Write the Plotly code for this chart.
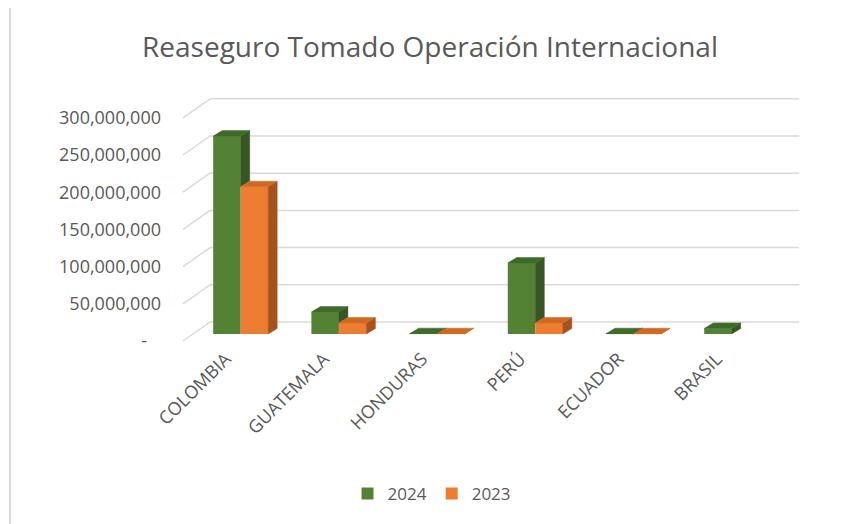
import plotly.graph_objects as go

# ---------------- data ----------------
categories = ["COLOMBIA", "GUATEMALA", "HONDURAS", "PERÚ", "ECUADOR", "BRASIL"]
values_2024 = [266_000_000, 29_500_000, 500_000, 95_500_000, 400_000, 7_500_000]
values_2023 = [198_000_000, 14_800_000, 400_000, 14_800_000, 300_000, 0]
series_names = ["2024", "2023"]
tick_values = [0, 50_000_000, 100_000_000, 150_000_000, 200_000_000, 250_000_000, 300_000_000]
tick_labels = ["-\u00a0\u00a0\u00a0", "50,000,000", "100,000,000", "150,000,000",
               "200,000,000", "250,000,000", "300,000,000"]

# ---------------- styling / geometry ----------------
W, H = 842, 524
OFF = 8                                      # page body margin
PL, PR, PT, PB = 180, 805, 85, 350           # plot area in page pixels
PX_PER_CAT = 98.2
CAT0_PX = 240.7
VAL_PER_PX = 50_000_000 / 37.2
BASE_PX = 334

x_range = [(PL - CAT0_PX) / PX_PER_CAT, (PR - CAT0_PX) / PX_PER_CAT]
y_range = [(BASE_PX - PB) * VAL_PER_PX, (BASE_PX - PT) * VAL_PER_PX]

DEPTH_DX = 9 / PX_PER_CAT
DEPTH_DY = 5.5 * VAL_PER_PX
BACK_DX = 18.4 / PX_PER_CAT
BACK_DY = 12 * VAL_PER_PX
FRONT_DX = -8.6 / PX_PER_CAT
FRONT_DY = -7 * VAL_PER_PX
LABEL_SHIFT = 15 / PX_PER_CAT
LABEL_RAISE = 6

BARGAP = 0.44
BW = (1 - BARGAP) / 2

front_colors = ["#548235", "#ED7D31"]
side_colors = ["#375623", "#A5521C"]
top_colors = ["#3E6B29", "#CF6A22"]
TEXT = "#595959"
GRID = "#D9D9D9"
FONT = "Open Sans"

fig = go.Figure()

# front faces as real bars
for j, (name, vals) in enumerate(zip(series_names, [values_2024, values_2023])):
    fig.add_trace(go.Bar(
        x=list(range(len(categories))), y=vals, name=name,
        marker=dict(color=front_colors[j], line=dict(width=0)),
        hoverinfo="skip",
    ))

# side and top faces (3D effect) computed from the data
for j, vals in enumerate([values_2024, values_2023]):
    sx, sy, tx, ty = [], [], [], []
    for k, v in enumerate(vals):
        if j == 0:
            xl, xr = k - BW, k
            low = min(values_2023[k], v)
        else:
            xl, xr = k, k + BW
            low = 0
        if v <= 0:
            continue
        sx += [xr, xr + DEPTH_DX, xr + DEPTH_DX, xr, xr, None]
        sy += [low, low + DEPTH_DY, v + DEPTH_DY, v, low, None]
        tx += [xl, xl + DEPTH_DX, xr + DEPTH_DX, xr, xl, None]
        ty += [v, v + DEPTH_DY, v + DEPTH_DY, v, v, None]
    fig.add_trace(go.Scatter(x=sx, y=sy, mode="lines", fill="toself",
                             fillcolor=side_colors[j], line=dict(width=0.5, color=side_colors[j]),
                             showlegend=False, hoverinfo="skip"))
    fig.add_trace(go.Scatter(x=tx, y=ty, mode="lines", fill="toself",
                             fillcolor=top_colors[j], line=dict(width=0.5, color=top_colors[j]),
                             showlegend=False, hoverinfo="skip"))

# gridlines on back wall and left wall
x_left = -0.5
x_right = len(categories) - 0.5
for t in tick_values:
    fig.add_shape(type="line", xref="x", yref="y", layer="below",
                  x0=x_left + FRONT_DX, y0=t + FRONT_DY, x1=x_left + BACK_DX, y1=t + BACK_DY,
                  line=dict(color=GRID, width=1.5))
    fig.add_shape(type="line", xref="x", yref="y", layer="below",
                  x0=x_left + BACK_DX, y0=t + BACK_DY, x1=x_right + BACK_DX, y1=t + BACK_DY,
                  line=dict(color=GRID, width=1.5))

# invisible trace to activate the label axes
fig.add_trace(go.Scatter(x=[None], y=[None], xaxis="x2", yaxis="y2",
                         showlegend=False, hoverinfo="skip"))

# chart border (top and left)
pw, ph = PR - PL, PB - PT
fig.add_shape(type="line", xref="paper", yref="paper",
              x0=(10 - PL) / pw, x1=(W - PL) / pw, y0=(PB - 6) / ph, y1=(PB - 6) / ph,
              line=dict(color=GRID, width=2))
fig.add_shape(type="line", xref="paper", yref="paper",
              x0=(10 - PL) / pw, x1=(10 - PL) / pw, y0=(PB - 6) / ph, y1=(PB - H) / ph,
              line=dict(color=GRID, width=2))

FW, FH = W - OFF, H - OFF
fig.update_layout(
    width=FW, height=FH,
    margin=dict(l=PL - OFF, r=W - PR, t=PT - OFF, b=H - PB, autoexpand=False),
    paper_bgcolor="white", plot_bgcolor="white",
    barmode="group", bargap=BARGAP, bargroupgap=0,
    font=dict(family=FONT, color=TEXT),
    title=dict(text="Reaseguro Tomado Operación Internacional",
               x=(430 - OFF) / FW, xanchor="center", y=1 - (47 - OFF) / FH, yanchor="middle",
               font=dict(size=28, color=TEXT, family=FONT)),
    xaxis=dict(range=x_range, showgrid=False, zeroline=False, showline=False,
               showticklabels=False, ticks=""),
    xaxis2=dict(range=[x_range[0] + LABEL_SHIFT, x_range[1] + LABEL_SHIFT], overlaying="x",
                side="bottom", anchor="free", position=LABEL_RAISE / ph,
                tickvals=list(range(len(categories))), ticktext=categories,
                tickangle=-45, showgrid=False, zeroline=False, showline=False,
                tickfont=dict(size=18, color=TEXT), ticks=""),
    yaxis=dict(range=y_range, showgrid=False, zeroline=False, showticklabels=False, showline=False),
    yaxis2=dict(range=[y_range[0] - FRONT_DY, y_range[1] - FRONT_DY], overlaying="y", side="left",
                anchor="x",
                tickvals=tick_values, ticktext=tick_labels, showgrid=False, zeroline=False,
                showline=False, ticks="", ticklabelstandoff=18,
                tickfont=dict(size=18, color=TEXT)),
    legend=dict(orientation="h", x=(432 - PL) / pw, xref="paper", xanchor="center",
                y=(PB - 494) / ph, yanchor="middle", font=dict(size=17, color=TEXT),
                itemwidth=30, traceorder="normal"),
    showlegend=True,
)

fig.write_html("out.html")
